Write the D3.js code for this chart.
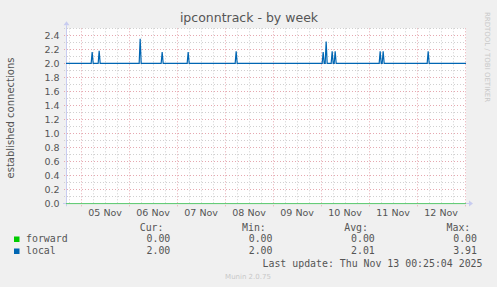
<!DOCTYPE html>
<html><head><meta charset="utf-8">
<script src="https://cdn.jsdelivr.net/npm/d3@7"></script>
<style>
html,body{margin:0;padding:0;background:#F0F0F0;}
svg{display:block;}
</style></head>
<body>
<script>
// ---- data ----
const title = "ipconntrack - by week";
const yLabel = "established connections";
const startTime = "2025-11-04T16:25:00Z";
const endTime = "2025-11-13T00:25:04Z";
const yTicks = [0.0, 0.2, 0.4, 0.6, 0.8, 1.0, 1.2, 1.4, 1.6, 1.8, 2.0, 2.2, 2.4];
const xTickLabels = ["05 Nov", "06 Nov", "07 Nov", "08 Nov", "09 Nov", "10 Nov", "11 Nov", "12 Nov"];
const seriesNames = ["forward", "local"];
const seriesColors = ["#00CC00", "#0066B3"];
const forwardTimes = ["2025-11-04T16:25:00Z", "2025-11-13T00:25:00Z"];
const forwardValues = [0, 0];
const localTimes = [
  "2025-11-04T16:25:00Z",
  "2025-11-05T05:00:00Z","2025-11-05T05:30:00Z","2025-11-05T06:00:00Z",
  "2025-11-05T08:30:00Z","2025-11-05T09:00:00Z","2025-11-05T09:30:00Z",
  "2025-11-06T05:00:00Z","2025-11-06T05:30:00Z","2025-11-06T06:00:00Z",
  "2025-11-06T16:00:00Z","2025-11-06T16:30:00Z","2025-11-06T17:00:00Z",
  "2025-11-07T05:00:00Z","2025-11-07T05:30:00Z","2025-11-07T06:00:00Z",
  "2025-11-08T05:00:00Z","2025-11-08T05:30:00Z","2025-11-08T06:00:00Z",
  "2025-11-10T00:30:00Z","2025-11-10T01:00:00Z","2025-11-10T01:30:00Z",
  "2025-11-10T02:00:00Z","2025-11-10T02:30:00Z","2025-11-10T03:00:00Z",
  "2025-11-10T05:00:00Z","2025-11-10T05:30:00Z","2025-11-10T06:00:00Z",
  "2025-11-10T06:30:00Z","2025-11-10T07:00:00Z","2025-11-10T07:30:00Z",
  "2025-11-11T05:00:00Z","2025-11-11T05:30:00Z","2025-11-11T06:00:00Z",
  "2025-11-11T06:30:00Z","2025-11-11T07:00:00Z","2025-11-11T07:30:00Z",
  "2025-11-12T05:00:00Z","2025-11-12T05:30:00Z","2025-11-12T06:00:00Z",
  "2025-11-13T00:25:00Z"
];
const localValues = [
  2.0,
  2.0, 2.16, 2.0,
  2.0, 2.18, 2.0,
  2.0, 2.35, 2.0,
  2.0, 2.16, 2.0,
  2.0, 2.16, 2.0,
  2.0, 2.17, 2.0,
  2.0, 2.16, 2.0,
  2.0, 2.31, 2.0,
  2.0, 2.17, 2.0,
  2.0, 2.17, 2.0,
  2.0, 2.17, 2.0,
  2.0, 2.17, 2.0,
  2.0, 2.17, 2.0,
  2.0
];
const legendHeaders = ["Cur:", "Min:", "Avg:", "Max:"];
const forwardStats = ["0.00", "0.00", "0.00", "0.00"];
const localStats = ["2.00", "2.00", "2.01", "3.91"];
const lastUpdate = "Last update: Thu Nov 13 00:25:04 2025";
const footer = "Munin 2.0.75";
const sideText = "RRDTOOL / TOBI OETIKER";

// ---- drawing ----
const W = 497, H = 287;
const L = 66, R = 466, T = 28.3, B = 203.3;
const svg = d3.select("body").append("svg").attr("width", W).attr("height", H);
svg.append("rect").attr("width", W).attr("height", H).attr("fill", "#F0F0F0");

const x = d3.scaleUtc().domain([new Date(startTime), new Date(endTime)]).range([L, R]);
const y = d3.scaleLinear().domain([0, 2.5]).range([B, T]);

svg.append("rect").attr("x", L).attr("y", T).attr("width", R - L).attr("height", B - T).attr("fill", "#FFFFFF");

const px = v => Math.round(v) + 0.5;
const textCol = "#555555";
const fontS = "DejaVu Sans, sans-serif";
const fontM = "DejaVu Sans Mono, monospace";
const minorCol = "#D0D0D0", majorCol = "#E6A8B0";

// minor horizontal grid (0.1)
const gMinor = svg.append("g");
const hMinor = d3.range(1, 26).map(i => i / 10).filter((v, i) => i % 2 === 0);
gMinor.selectAll("line.hm").data(hMinor).join("line")
  .attr("x1", L - 2).attr("x2", R).attr("y1", d => px(y(d))).attr("y2", d => px(y(d)))
  .attr("stroke", minorCol).attr("stroke-dasharray", "1,2");
// minor vertical grid (6h)
const vMinor = d3.utcHour.every(6).range(x.domain()[0], x.domain()[1]).filter(d => d.getUTCHours() !== 0);
gMinor.selectAll("line.vm").data(vMinor).join("line")
  .attr("x1", d => px(x(d))).attr("x2", d => px(x(d))).attr("y1", T).attr("y2", B + 2)
  .attr("stroke", minorCol).attr("stroke-dasharray", "1,2");

// major grid
const gMajor = svg.append("g");
gMajor.selectAll("line.hM").data(yTicks.filter(v => v > 0)).join("line")
  .attr("x1", L - 2).attr("x2", R).attr("y1", d => px(y(d))).attr("y2", d => px(y(d)))
  .attr("stroke", majorCol).attr("stroke-dasharray", "1,2");
const vMajor = d3.utcDay.range(x.domain()[0], x.domain()[1]);
gMajor.selectAll("line.vM").data(vMajor).join("line")
  .attr("x1", d => px(x(d))).attr("x2", d => px(x(d))).attr("y1", T).attr("y2", B + 3)
  .attr("stroke", majorCol).attr("stroke-dasharray", "1,2");

// axes lines
const axCol = "#C8CCF0";
svg.append("line").attr("x1", L - 3).attr("x2", R + 3).attr("y1", px(B)).attr("y2", px(B)).attr("stroke", axCol);
svg.append("line").attr("x1", px(L)).attr("x2", px(L)).attr("y1", B + 3).attr("y2", T - 3).attr("stroke", axCol);
svg.append("path").attr("d", `M${R + 3},${px(B) - 3}L${R + 7},${px(B)}L${R + 3},${px(B) + 3}Z`).attr("fill", axCol);
svg.append("path").attr("d", `M${px(L) - 3},${T - 3}L${px(L)},${T - 7}L${px(L) + 3},${T - 3}Z`).attr("fill", axCol);

// y tick labels
svg.append("g").selectAll("text").data(yTicks).join("text")
  .attr("x", 59.5).attr("y", d => y(d) + 3.4).attr("text-anchor", "end")
  .attr("font-family", fontS).attr("font-size", 9.5).attr("fill", textCol)
  .text(d => d.toFixed(1));

// x tick labels at noon
const noons = vMajor.map(d => new Date(d.getTime() + 12 * 3600 * 1000));
svg.append("g").selectAll("text").data(noons).join("text")
  .attr("x", d => x(d)).attr("y", 216).attr("text-anchor", "middle")
  .attr("font-family", fontS).attr("font-size", 9.5).attr("fill", textCol)
  .text((d, i) => xTickLabels[i]);

// series
const line = d3.line().x(d => x(d[0])).y(d => y(d[1]));
const fwd = forwardTimes.map((t, i) => [new Date(t), forwardValues[i]]);
const loc = localTimes.map((t, i) => [new Date(t), localValues[i]]);
svg.append("path").attr("d", line(fwd)).attr("fill", "none").attr("stroke", seriesColors[0]).attr("stroke-width", 1).attr("opacity", 0.55)
  .attr("transform", "translate(0,0.3)");
svg.append("path").attr("d", line(loc)).attr("fill", "none").attr("stroke", seriesColors[1]).attr("stroke-width", 1.2);

// title
svg.append("text").attr("x", 249).attr("y", 22).attr("text-anchor", "middle")
  .attr("font-family", fontS).attr("font-size", 12.5).attr("fill", textCol).text(title);
// y label
svg.append("text").attr("transform", "translate(14,118) rotate(-90)").attr("text-anchor", "middle")
  .attr("font-family", fontS).attr("font-size", 10).attr("fill", textCol).text(yLabel);
// side text
svg.append("text").attr("transform", "translate(485,57) rotate(90)").attr("text-anchor", "middle")
  .attr("font-family", fontS).attr("font-size", 7).attr("fill", "#C8C8C8").text(sideText);

// legend
const headX = [163.5, 265.8, 368, 470.3];
const valX = [170.3, 272.5, 374.8, 477];
svg.append("g").selectAll("text").data(legendHeaders).join("text")
  .attr("x", (d, i) => headX[i]).attr("y", 231).attr("text-anchor", "end")
  .attr("font-family", fontM).attr("font-size", 9.9).attr("fill", textCol).text(d => d);
const rows = [forwardStats, localStats];
const rowY = [242, 254];
rows.forEach((vals, r) => {
  svg.append("rect").attr("x", 14).attr("y", rowY[r] - 5.5).attr("width", 5.5).attr("height", 5.5).attr("fill", seriesColors[r]);
  svg.append("text").attr("x", 26).attr("y", rowY[r]).attr("font-family", fontM).attr("font-size", 9.9).attr("fill", textCol).text(seriesNames[r]);
  svg.append("g").selectAll("text").data(vals).join("text")
    .attr("x", (d, i) => valX[i]).attr("y", rowY[r]).attr("text-anchor", "end")
    .attr("font-family", fontM).attr("font-size", 9.9).attr("fill", textCol).text(d => d);
});
svg.append("text").attr("x", 482.5).attr("y", 267).attr("text-anchor", "end")
  .attr("font-family", fontM).attr("font-size", 9.9).attr("fill", textCol).text(lastUpdate);
svg.append("text").attr("x", 248).attr("y", 279).attr("text-anchor", "middle")
  .attr("font-family", fontS).attr("font-size", 7).attr("fill", "#C8C8C8").text(footer);
</script>
</body></html>
